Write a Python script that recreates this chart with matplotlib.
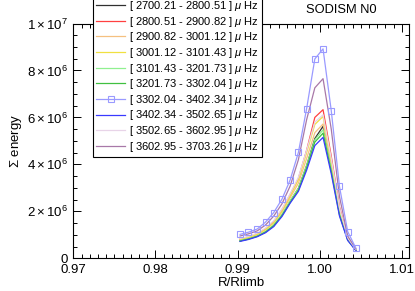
import matplotlib
matplotlib.use("Agg")
import matplotlib.pyplot as plt
from matplotlib.ticker import MultipleLocator, FixedLocator, FixedFormatter

plt.rcParams['font.family'] = ['Liberation Sans', 'DejaVu Sans']
plt.rcParams['mathtext.fontset'] = 'custom'
plt.rcParams['mathtext.rm'] = 'Liberation Sans'
plt.rcParams['mathtext.it'] = 'Liberation Sans:italic'
plt.rcParams['mathtext.bf'] = 'Liberation Sans:bold'

# R/Rlimb positions
r = [0.9903, 0.9913, 0.9924, 0.9934, 0.9944, 0.9954, 0.9964, 0.9974,
     0.9984, 0.9994, 1.0004, 1.0014, 1.0024, 1.0034, 1.0044]

labels = [
    r'[ 2700.21 - 2800.51 ] $\mu$ Hz',
    r'[ 2800.51 - 2900.82 ] $\mu$ Hz',
    r'[ 2900.82 - 3001.12 ] $\mu$ Hz',
    r'[ 3001.12 - 3101.43 ] $\mu$ Hz',
    r'[ 3101.43 - 3201.73 ] $\mu$ Hz',
    r'[ 3201.73 - 3302.04 ] $\mu$ Hz',
    r'[ 3302.04 - 3402.34 ] $\mu$ Hz',
    r'[ 3402.34 - 3502.65 ] $\mu$ Hz',
    r'[ 3502.65 - 3602.95 ] $\mu$ Hz',
    r'[ 3602.95 - 3703.26 ] $\mu$ Hz',
]

# Sigma energy (units of 1e6)
e_2700 = [0.74, 0.82, 0.94, 1.12, 1.39, 1.84, 2.43, 2.98, 3.95, 5.10, 5.62, 3.85, 1.92, 0.80, 0.34]
e_2800 = [0.82, 0.91, 1.05, 1.26, 1.57, 2.07, 2.72, 3.40, 4.60, 6.00, 6.33, 4.35, 2.20, 0.88, 0.38]
e_2900 = [0.80, 0.88, 1.01, 1.21, 1.50, 1.97, 2.58, 3.20, 4.25, 5.35, 5.72, 3.95, 2.00, 0.84, 0.36]
e_3001 = [0.80, 0.89, 1.02, 1.23, 1.53, 2.02, 2.66, 3.35, 4.50, 5.70, 6.04, 4.15, 2.10, 0.86, 0.37]
e_3101 = [0.75, 0.83, 0.95, 1.14, 1.42, 1.87, 2.45, 2.98, 3.95, 5.05, 5.47, 3.80, 1.90, 0.80, 0.35]
e_3201 = [0.74, 0.82, 0.94, 1.12, 1.39, 1.82, 2.38, 2.90, 3.85, 4.95, 5.33, 3.70, 1.85, 0.78, 0.34]
e_3302 = [1.02, 1.11, 1.25, 1.54, 1.95, 2.52, 3.34, 4.51, 6.37, 8.49, 8.92, 6.29, 3.06, 1.14, 0.43]
e_3402 = [0.72, 0.80, 0.92, 1.09, 1.35, 1.78, 2.35, 2.85, 3.75, 4.80, 5.15, 3.60, 1.80, 0.76, 0.33]
e_3502 = [0.84, 0.93, 1.07, 1.29, 1.60, 2.10, 2.75, 3.45, 4.60, 5.80, 6.11, 4.25, 2.15, 0.88, 0.37]
e_3602 = [0.95, 1.04, 1.17, 1.42, 1.80, 2.32, 3.08, 4.20, 5.90, 7.26, 7.65, 5.50, 2.63, 0.95, 0.40]

series = [e_2700, e_2800, e_2900, e_3001, e_3101, e_3201, e_3302, e_3402, e_3502, e_3602]
colors = ['#303030', '#ff4040', '#f5c080', '#f0e040', '#90f090', '#40c040',
          '#9a9aff', '#3a3aff', '#e8d4e8', '#a878a8']

yticks = [0, 2e6, 4e6, 6e6, 8e6, 1e7]
yticklabels = ['0', r'$2\times10^{6}$', r'$4\times10^{6}$', r'$6\times10^{6}$',
               r'$8\times10^{6}$', r'$1\times10^{7}$']
xticks = [0.97, 0.98, 0.99, 1.00, 1.01]
xticklabels = ['0.97', '0.98', '0.99', '1.00', '1.01']

fig = plt.figure(figsize=(4.15, 2.91), dpi=100)
ax = fig.add_axes([73.3 / 415, 1 - 258.3 / 291, (409.3 - 73.3) / 415, (258.3 - 23.5) / 291])

handles = []
for i, (vals, c, lab) in enumerate(zip(series, colors, labels)):
    y = [v * 1e6 for v in vals]
    if i == 6:
        h, = ax.plot(r, y, color=c, lw=0.9, marker='s', ms=4.5, mfc='none',
                     mec=c, mew=0.8, label=lab, zorder=3)
    else:
        h, = ax.plot(r, y, color=c, lw=0.9, label=lab, zorder=2)
    handles.append(h)

ax.set_xlim(0.97, 1.0109)
ax.set_ylim(0, 1e7)
ax.xaxis.set_major_locator(FixedLocator(xticks))
ax.xaxis.set_major_formatter(FixedFormatter(xticklabels))
ax.xaxis.set_minor_locator(MultipleLocator(0.001))
ax.yaxis.set_major_locator(FixedLocator(yticks))
ax.yaxis.set_major_formatter(FixedFormatter(yticklabels))
ax.yaxis.set_minor_locator(MultipleLocator(5e5))
ax.tick_params(which='both', direction='in', top=True, right=True,
               labelsize=9.5, width=0.7, colors='black')
ax.tick_params(which='major', length=5.5, pad=4)
ax.tick_params(which='minor', length=2.7)
for s in ax.spines.values():
    s.set_linewidth(0.8)

ax.set_xlabel('R/Rlimb', fontsize=9.5, labelpad=1)
ax.set_ylabel(r'$\Sigma$ energy', fontsize=9.5, labelpad=2)

fig.text(341.5 / 415, 1 - 10 / 291, 'SODISM N0', fontsize=9.3, ha='center', va='center')

leg = fig.legend(handles=handles, loc='lower left',
                 bbox_to_anchor=(93 / 415, 1 - 157 / 291),
                 fontsize=8, frameon=True, fancybox=False, framealpha=1,
                 edgecolor='black', handlelength=2.6, handletextpad=0.3,
                 labelspacing=0.145, borderpad=0.3, borderaxespad=0)
leg.get_frame().set_linewidth(0.8)

fig.savefig('out.png', dpi=100)
